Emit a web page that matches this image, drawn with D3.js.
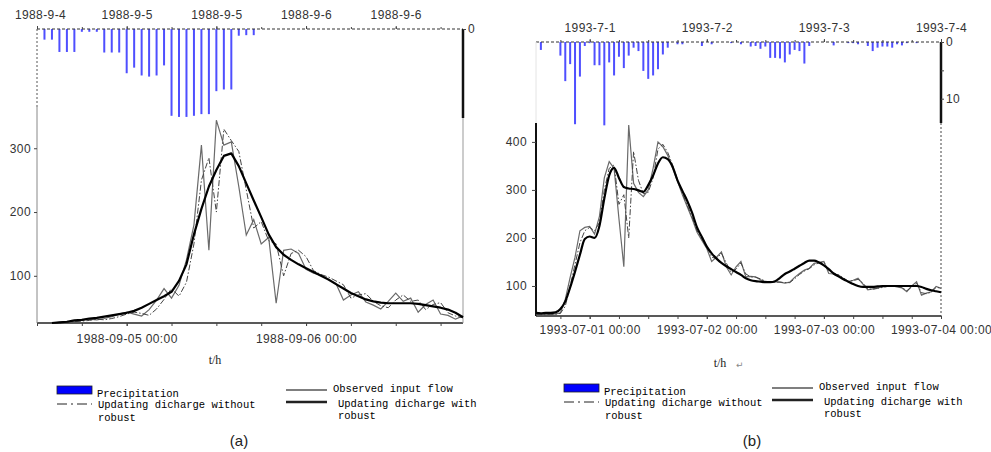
<!DOCTYPE html>
<html><head><meta charset="utf-8">
<script src="https://cdn.jsdelivr.net/npm/d3@7"></script>
<style>
body{margin:0;background:#fff;}
svg{display:block;}
.tick text{font-family:"Liberation Sans",Arial,sans-serif;font-size:12px;fill:#333;letter-spacing:0.4px;}
.leg{font-family:"Liberation Mono","Courier New",monospace;font-size:10.5px;fill:#000;}
</style></head><body>
<svg id="chart" width="991" height="452"></svg>
<script>
// ================= Panel (a) data =================
const startA = "1988-09-04T12:00";
const endA = "1988-09-06T21:00";
const topTickTimesA = ["1988-09-04T12:00","1988-09-05T00:00","1988-09-05T12:00","1988-09-06T00:00","1988-09-06T12:00"];
const topTickLabelsA = ["1988-9-4","1988-9-5","1988-9-5","1988-9-6","1988-9-6"];
const bottomTickTimesA = ["1988-09-05T00:00","1988-09-06T00:00"];
const bottomTickLabelsA = ["1988-09-05 00:00","1988-09-06 00:00"];
const flowTicksA = [100,200,300];
const precipTickValuesA = [0];
const precipTickLabelsA = ["0"];
// precipitation (mm), hour offsets from startA
const precipHoursA = [1,2,3,4,5,6,7,8,9,10,11,12,13,14,15,16,17,18,19,20,21,22,23,24,25,26,27,28,29];
const precipA = [1.9,1.9,4.1,4.1,4.1,0.5,0.5,0.5,4.2,4.2,4.2,7.9,6.9,8.3,8.5,8.3,6.5,15.5,15.7,15.7,15.5,15.2,15.2,11.1,10.8,10.8,1.2,1.1,1.1];
// discharge series, hourly, first value at hour offset flowStartA
const flowStartA = 2;
const observedA = [26,27,28,29,30,32,31,33,36,40,
  43,40,37,47,62,80,65,85,125,180,
  305,140,344,305,310,240,164,188,150,160,
  57,140,142,135,110,104,101,95,88,62,
  70,75,59,54,48,60,73,60,65,43,
  55,62,40,38,32,37];
const noRobustA = [26,26,27,28,29,30,32,31,33,36,
  40,43,41,38,48,63,80,68,90,150,
  250,285,200,330,312,295,235,175,185,155,
  150,100,135,140,130,108,102,98,92,86,
  65,70,72,60,53,50,62,70,60,62,
  47,55,58,42,37,34];
const robustA = [26,27,28,30,31,33,34,36,38,40,
  42,45,50,56,62,68,75,92,118,165,
  205,240,266,288,292,272,245,218,192,165,
  145,133,125,118,112,106,100,94,87,80,
  73,68,63,60,58,57,57,57,57,56,
  54,52,50,47,42,35];

// ================= Panel (b) data =================
const startB = "1993-06-30T13:00";
const endB = "1993-07-04T00:00";
const topTickTimesB = ["1993-07-01T00:00","1993-07-02T00:00","1993-07-03T00:00","1993-07-04T00:00"];
const topTickLabelsB = ["1993-7-1","1993-7-2","1993-7-3","1993-7-4"];
const bottomTickTimesB = ["1993-07-01T00:00","1993-07-02T00:00","1993-07-03T00:00","1993-07-04T00:00"];
const bottomTickLabelsB = ["1993-07-01 00:00","1993-07-02 00:00","1993-07-03 00:00","1993-07-04 00:00"];
const flowTicksB = [100,200,300,400];
const precipTickValuesB = [0,5,10];
const precipTickLabelsB = ["0","","10"];
// precipitation (mm), hours counted from 1993-06-30 00:00
const precipHoursB = [14,18,19,20,21,22,23,24,25,26,27,28,29,30,31,32,33,34,35,36,37,38,39,40,42,43,47,49,53,55,57,58,59,60,61,62,63,64,65,66,67,68,69,74,77,78,79,81,82,83,84,85,86,87,88,89,91];
const precipB = [1.4,2.4,6.9,3.9,14.5,6.1,0.7,0.2,4.1,4.1,14.7,3.6,5.9,2.6,4.6,2.4,1.0,1.6,5.1,6.5,5.9,4.8,2.2,1.0,0.4,0.4,0.7,0.4,0.2,0.4,0.8,0.7,1.2,0.8,2.8,2.8,2.9,3.6,2.2,1.4,1.6,3.8,0.7,0.6,0.2,0.2,0.4,0.7,1.6,1.0,0.8,0.8,1.0,0.4,0.6,0.2,0.2];
// discharge series hourly from startB (13:00 on 1993-06-30)
const observedB = [40,40,41,41,42,44,72,118,160,215,
  222,224,208,245,325,359,345,240,140,435,
  314,295,286,300,345,400,390,372,345,318,
  290,265,240,212,195,178,151,160,171,140,
  123,140,151,119,120,119,113,109,108,109,
  108,106,108,118,126,133,137,147,149,151,
  126,125,123,115,109,112,116,104,92,94,
  96,98,99,100,98,96,88,100,109,81,
  85,88,99,95];
const noRobustB = [41,40,40,41,41,43,58,100,145,190,
  215,222,215,232,300,345,352,270,290,200,
  380,320,292,295,325,385,395,378,352,322,
  293,268,243,215,198,182,160,157,168,148,
  128,135,148,125,119,118,115,110,108,108,
  108,107,107,115,124,131,136,144,148,150,
  132,125,123,117,110,111,114,106,94,93,
  95,97,99,100,99,97,90,98,106,86,
  84,87,97,96];
const robustB = [44,43,44,44,45,52,68,97,130,165,
  198,203,200,225,282,330,346,325,306,303,
  302,299,296,310,330,355,368,364,348,320,
  298,277,252,222,202,182,168,157,148,141,
  135,129,123,116,112,110,109,108,108,110,
  117,125,130,136,142,148,153,153,149,143,
  135,126,120,114,109,104,100,98,98,98,
  99,100,100,100,100,100,100,100,100,98,
  94,91,89,87];

const legendLabels = ["Precipitation","Updating dicharge without","robust","Observed input flow","Updating dicharge with","robust"];

// ================= drawing =================
const parse = d3.timeParse("%Y-%m-%dT%H:%M");
const svg = d3.select("#chart");

function panel(o){
  const g = svg.append("g");
  const t0 = parse(o.start), t1 = parse(o.end);
  const x = d3.scaleTime().domain([t0,t1]).range([o.L,o.R]);
  const y = d3.scaleLinear().domain(o.flowDomain).range([o.B,o.T]);
  const p = d3.scaleLinear().domain([0,o.pMax]).range([o.T,o.T+o.pMax*o.pxPerMm]);

  // precipitation bars
  g.selectAll("rect.bar").data(o.pHours.map((h,i)=>({t:d3.timeHour.offset(o.pBase,h),v:o.pVals[i]})))
    .join("rect").attr("class","bar")
    .attr("x",d=>x(d.t)-1).attr("width",2)
    .attr("y",o.T).attr("height",d=>p(d.v)-o.T)
    .attr("fill","#4f4fff");

  // frame
  const fr = g.append("g").attr("fill","none");
  fr.append("line").attr("x1",o.L).attr("x2",o.R).attr("y1",o.T).attr("y2",o.T).attr("stroke","#333").attr("stroke-dasharray","3,2");
  fr.append("line").attr("x1",o.L).attr("x2",o.R).attr("y1",o.B).attr("y2",o.B).attr("stroke","#222").attr("stroke-width",1.6);
  o.frame(fr);

  // axes
  const top = g.append("g").attr("transform",`translate(0,${o.T})`)
    .call(d3.axisTop(x).tickValues(o.topTimes.map(parse)).tickFormat((d,i)=>o.topLabels[i]).tickSize(3).tickPadding(7));
  const minorT = g.append("g").attr("transform",`translate(0,${o.T})`)
    .call(d3.axisTop(x).ticks(d3.timeHour.every(6)).tickFormat("").tickSize(2));
  const bot = g.append("g").attr("transform",`translate(0,${o.B})`)
    .call(d3.axisBottom(x).tickValues(o.botTimes.map(parse)).tickFormat((d,i)=>o.botLabels[i]).tickSize(3).tickPadding(o.botPad));
  const minorB = g.append("g").attr("transform",`translate(0,${o.B})`)
    .call(d3.axisBottom(x).ticks(d3.timeHour.every(6)).tickFormat("").tickSize(3));
  const left = g.append("g").attr("transform",`translate(${o.L},0)`)
    .call(d3.axisLeft(y).tickValues(o.flowTicks).tickSize(o.lTick).tickPadding(o.lPad));
  const right = g.append("g").attr("transform",`translate(${o.R},0)`)
    .call(d3.axisRight(p).tickValues(o.pTickVals).tickFormat((d,i)=>o.pTickLabels[i]).tickSize(3).tickPadding(2));
  [top,minorT,bot,minorB,left,right].forEach(a=>{a.select(".domain").remove();a.selectAll(".tick line").attr("stroke","#444");});
  if(o.firstTopShift) top.select(".tick text").attr("dx",o.firstTopShift);

  // lines
  const series = (vals,start)=>vals.map((v,i)=>({t:d3.timeHour.offset(t0,start+i),v}));
  const lineL = d3.line().x(d=>x(d.t)).y(d=>y(d.v));
  const lineR = d3.line().x(d=>x(d.t)).y(d=>y(d.v)).curve(o.smooth ? d3.curveMonotoneX : d3.curveLinear);
  g.append("path").datum(series(o.obs,o.fStart)).attr("d",lineL).attr("fill","none").attr("stroke","#6a6a6a").attr("stroke-width",1.2);
  g.append("path").datum(series(o.nor,o.fStart)).attr("d",lineL).attr("fill","none").attr("stroke","#444").attr("stroke-width",1).attr("stroke-dasharray","6,2,1.5,2");
  g.append("path").datum(series(o.rob,o.fStart)).attr("d",lineR).attr("fill","none").attr("stroke","#000").attr("stroke-width",2.2).attr("stroke-linejoin","round");

  // t/h
  g.append("text").attr("x",o.thX).attr("y",o.thY).attr("text-anchor","middle")
    .style("font-family","'Liberation Serif',serif").style("font-size","12px").attr("fill","#222").text("t/h");
  if(o.thArrow) g.append("text").attr("x",o.thX+16).attr("y",o.thY+1).style("font-family","'DejaVu Sans',sans-serif").style("font-size","9px").attr("fill","#888").text("\u21B5");

  // legend
  const lg = g.append("g");
  const lx = o.legX, ly = o.legY;
  lg.append("rect").attr("x",lx).attr("y",ly).attr("width",35).attr("height",8).attr("fill","#0000ff").attr("stroke","#222").attr("stroke-width",0.8);
  lg.append("text").attr("class","leg").attr("x",lx+40).attr("y",ly+11).text(legendLabels[0]);
  lg.append("line").attr("x1",lx).attr("x2",lx+35).attr("y1",ly+18).attr("y2",ly+18).attr("stroke","#222").attr("stroke-dasharray","10,4,2,4");
  lg.append("text").attr("class","leg").attr("x",lx+41).attr("y",ly+22).text(legendLabels[1]);
  lg.append("text").attr("class","leg").attr("x",lx+41).attr("y",ly+35).text(legendLabels[2]);
  const rx = o.legRX;
  lg.append("line").attr("x1",rx).attr("x2",rx+41).attr("y1",ly+4).attr("y2",ly+4).attr("stroke","#555").attr("stroke-width",1.3);
  lg.append("text").attr("class","leg").attr("x",rx+47).attr("y",ly+6).text(legendLabels[3]);
  lg.append("line").attr("x1",rx).attr("x2",rx+41).attr("y1",ly+16).attr("y2",ly+16).attr("stroke","#222").attr("stroke-width",2.4);
  lg.append("text").attr("class","leg").attr("x",rx+52).attr("y",ly+21).text(legendLabels[4]);
  lg.append("text").attr("class","leg").attr("x",rx+52).attr("y",ly+33).text(legendLabels[5]);

  g.append("text").attr("x",o.capX).attr("y",446).attr("text-anchor","middle")
    .style("font-family","'Liberation Sans',Arial,sans-serif").style("font-size","15px").attr("fill","#222").text(o.caption);
}

panel({
  start:startA,end:endA,L:37,R:463,T:29,B:323,flowDomain:[26,487],
  pMax:16,pxPerMm:5.6,pBase:parse(startA),pHours:precipHoursA,pVals:precipA,
  pTickVals:precipTickValuesA,pTickLabels:precipTickLabelsA,
  topTimes:topTickTimesA,topLabels:topTickLabelsA,botTimes:bottomTickTimesA,botLabels:bottomTickLabelsA,botPad:8,
  flowTicks:flowTicksA,lTick:3,lPad:3,firstTopShift:3,smooth:false,
  obs:observedA,nor:noRobustA,rob:robustA,fStart:flowStartA,
  thX:215,thY:364,thArrow:false,legX:57,legY:386,legRX:286,capX:239,caption:"(a)",
  frame:fr=>{
    fr.append("line").attr("x1",37).attr("x2",37).attr("y1",29).attr("y2",107).attr("stroke","#555").attr("stroke-dasharray","2,2");
    fr.append("line").attr("x1",37).attr("x2",37).attr("y1",107).attr("y2",323).attr("stroke","#888");
    fr.append("line").attr("x1",463).attr("x2",463).attr("y1",29).attr("y2",118).attr("stroke","#111").attr("stroke-width",2.5);
    fr.append("line").attr("x1",463).attr("x2",463).attr("y1",118).attr("y2",323).attr("stroke","#999");
  }
});

panel({
  start:startB,end:endB,L:536,R:941,T:42,B:316,flowDomain:[37.5,608],
  pMax:14.3,pxPerMm:5.67,pBase:parse("1993-06-30T00:00"),pHours:precipHoursB,pVals:precipB,
  pTickVals:precipTickValuesB,pTickLabels:precipTickLabelsB,
  topTimes:topTickTimesB,topLabels:topTickLabelsB,botTimes:bottomTickTimesB,botLabels:bottomTickLabelsB,botPad:6,
  flowTicks:flowTicksB,lTick:4,lPad:5,firstTopShift:0,smooth:true,
  obs:observedB,nor:noRobustB,rob:robustB,fStart:0,
  thX:720,thY:367,thArrow:true,legX:564,legY:384,legRX:772,capX:752,caption:"(b)",
  frame:fr=>{
    fr.append("line").attr("x1",536).attr("x2",536).attr("y1",42).attr("y2",123).attr("stroke","#e4e4e4");
    fr.append("line").attr("x1",536).attr("x2",536).attr("y1",123).attr("y2",316).attr("stroke","#111").attr("stroke-width",2);
    fr.append("line").attr("x1",941).attr("x2",941).attr("y1",42).attr("y2",123).attr("stroke","#111").attr("stroke-width",2.5);
    fr.append("line").attr("x1",941).attr("x2",941).attr("y1",123).attr("y2",316).attr("stroke","#444").attr("stroke-dasharray","2,2");
  }
});
</script>
</body></html>
